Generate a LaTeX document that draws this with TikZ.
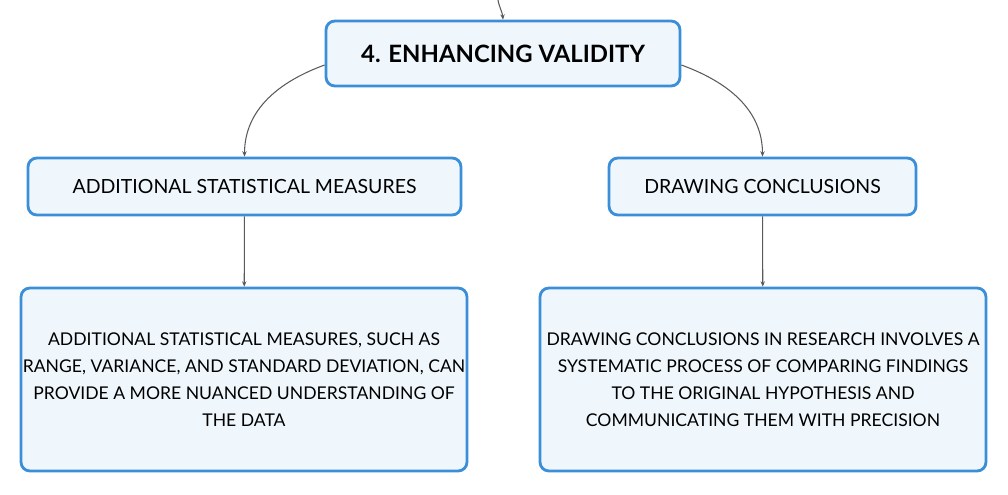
\documentclass[tikz,border=0pt]{standalone}
\usepackage{fontspec}
\setmainfont{Lato}
\usetikzlibrary{arrows.meta}
\definecolor{boxline}{HTML}{3B8FD9}
\definecolor{boxfill}{HTML}{EFF7FD}
\definecolor{link}{HTML}{5A5A5A}
\begin{document}
\begin{tikzpicture}[x=0.02cm,y=-0.02cm,
  box/.style={draw=boxline, fill=boxfill, line width=1.6pt, rounded corners=5pt, align=center, inner sep=0pt},
  link/.style={draw=link, line width=0.6pt, -{Stealth[length=3pt,width=2.5pt]}}]
\useasboundingbox (0,0) rectangle (1008,494);

\node[box, minimum width=7.08cm, minimum height=1.3cm, font=\fontsize{13.6}{16}\selectfont\bfseries] (top) at (503,53.5) {4. ENHANCING VALIDITY};
\node[box, minimum width=8.66cm, minimum height=1.14cm, font=\fontsize{11.1}{13}\selectfont] (stat) at (244.5,186.5) {ADDITIONAL STATISTICAL MEASURES};
\node[box, minimum width=6.14cm, minimum height=1.14cm, font=\fontsize{11.1}{13}\selectfont] (concl) at (762.5,186.5) {DRAWING CONCLUSIONS};
\node[box, minimum width=8.92cm, minimum height=3.66cm, font=\fontsize{10}{15.3}\selectfont] (statdesc) at (244,379.5) {ADDITIONAL STATISTICAL MEASURES, SUCH AS\\RANGE, VARIANCE, AND STANDARD DEVIATION, CAN\\PROVIDE A MORE NUANCED UNDERSTANDING OF\\THE DATA};
\node[box, minimum width=8.92cm, minimum height=3.66cm, font=\fontsize{10}{15.3}\selectfont] (concldesc) at (763,379.5) {DRAWING CONCLUSIONS IN RESEARCH INVOLVES A\\SYSTEMATIC PROCESS OF COMPARING FINDINGS\\TO THE ORIGINAL HYPOTHESIS AND\\COMMUNICATING THEM WITH PRECISION};
\coordinate (in) at (498,0);

\path[link] (in) to[out=-80,in=95] (top.north);
\path[link] ([yshift=-0.23cm]top.west) to[out=200,in=90] (stat.north);
\path[link] ([yshift=-0.23cm]top.east) to[out=-20,in=90] (concl.north);
\path[link] (stat) -- (statdesc);
\path[link] (concl) -- (concldesc);
\end{tikzpicture}
\end{document}
